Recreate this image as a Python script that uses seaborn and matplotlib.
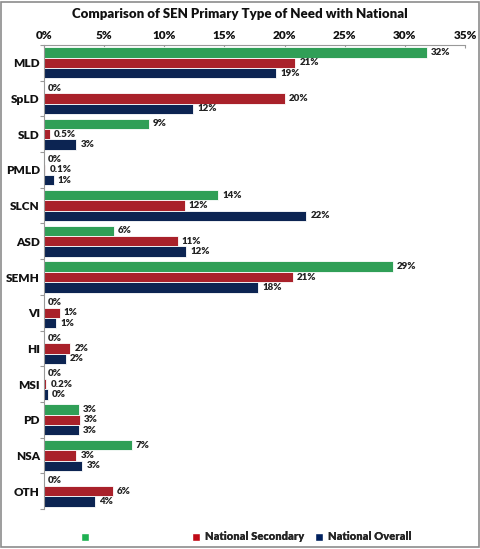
import matplotlib
matplotlib.use("Agg")
import matplotlib.pyplot as plt
from matplotlib.patches import Patch, Rectangle
from matplotlib.ticker import FixedLocator, PercentFormatter
import numpy as np
import pandas as pd
import seaborn as sns

# Primary type of need categories
categories = ["MLD", "SpLD", "SLD", "PMLD", "SLCN", "ASD", "SEMH",
              "VI", "HI", "MSI", "PD", "NSA", "OTH"]

# Share of pupils (%) by primary type of need
school = [31.8, 0.0, 8.7, 0.0, 14.5, 5.8, 29.0, 0.0, 0.0, 0.0, 2.9, 7.3, 0.0]
national_secondary = [20.9, 20.0, 0.5, 0.1, 11.7, 11.1, 20.7, 1.3, 2.2, 0.2, 3.0, 2.7, 5.7]
national_overall = [19.3, 12.4, 2.7, 0.8, 21.8, 11.8, 17.8, 1.0, 1.8, 0.3, 2.9, 3.2, 4.2]

series_names = ["School", "National Secondary", "National Overall"]
legend_labels = ["", "National Secondary", "National Overall"]
colors = ["#1EB152", "#C00A16", "#00205E"]
x_ticks = [0, 5, 10, 15, 20, 25, 30, 35]

df = pd.DataFrame({
    "category": categories * 3,
    "series": np.repeat(series_names, len(categories)),
    "value": school + national_secondary + national_overall,
})

sns.set_theme(style="white")
plt.rcParams["font.family"] = ["Lato", "DejaVu Sans"]
plt.rcParams["font.weight"] = "bold"

fig = plt.figure(figsize=(4.8, 5.49), dpi=100)
ax = fig.add_axes([44 / 480, 1 - 509 / 549, 421 / 480, 464 / 549])

sns.barplot(data=df, y="category", x="value", hue="series", order=categories,
            hue_order=series_names, palette=colors, orient="h", width=0.87,
            gap=0, edgecolor="white", linewidth=0.6, legend=False, ax=ax,
            errorbar=None)


def fmt(v, series):
    # national secondary shows one decimal for values below 1%
    if series == "National Secondary" and 0 < v < 1:
        return f"{v:.1f}%"
    return f"{v:.0f}%"


for cont, name in zip(ax.containers, series_names):
    vals = df.loc[df["series"] == name, "value"].tolist()
    ax.bar_label(cont, labels=[fmt(v, name) for v in vals], padding=3,
                 fontsize=7, fontweight="heavy", color="#222222")

ax.set_xlim(0, 35)
ax.set_ylim(len(categories) - 0.5, -0.5)
ax.xaxis.set_major_locator(FixedLocator(x_ticks))
ax.xaxis.set_major_formatter(PercentFormatter(decimals=0))
ax.xaxis.tick_top()
ax.set_xlabel("")
ax.set_ylabel("")

# category axis: tick marks at group boundaries
ax.set_yticks(np.arange(len(categories)))
ax.set_yticklabels(categories, fontsize=8.5, fontweight="heavy", color="#111111")
ax.set_yticks(np.arange(-0.5, len(categories)), minor=True)
ax.tick_params(axis="y", which="major", length=0, pad=3)
ax.tick_params(axis="y", which="minor", length=3, width=0.8, color="#999999",
               direction="out", left=True)
ax.tick_params(axis="x", which="major", length=2.5, width=0.8, color="#999999",
               direction="in", top=True, bottom=False, labelsize=8.5,
               labelcolor="#111111", pad=3)
for lbl in ax.get_xticklabels():
    lbl.set_fontweight("heavy")

for side in ["right", "bottom"]:
    ax.spines[side].set_visible(False)
for side in ["left", "top"]:
    ax.spines[side].set_color("#999999")
    ax.spines[side].set_linewidth(0.8)

fig.text(0.5, 1 - 14 / 549, "Comparison of SEN Primary Type of Need with National",
         ha="center", va="center", fontsize=9.5, fontweight="heavy", color="#111111")

# legend entries placed along the bottom
legend_x = [81 / 480, 192 / 480, 315 / 480]
for lx, lab, col in zip(legend_x, legend_labels, colors):
    leg = fig.legend(handles=[Patch(facecolor=col, edgecolor="white")], labels=[lab],
                     loc="center left", bbox_to_anchor=(lx, 1 - 537 / 549),
                     frameon=False, handlelength=0.75, handleheight=0.75,
                     handletextpad=0.4, borderpad=0, borderaxespad=0,
                     prop={"weight": "heavy", "size": 8})
    fig.add_artist(leg)

fig.patches.append(Rectangle((0.003, 0.003), 0.994, 0.994, transform=fig.transFigure,
                             fill=False, edgecolor="#8C8C8C", linewidth=1.2))

fig.savefig("out.png", dpi=100)
